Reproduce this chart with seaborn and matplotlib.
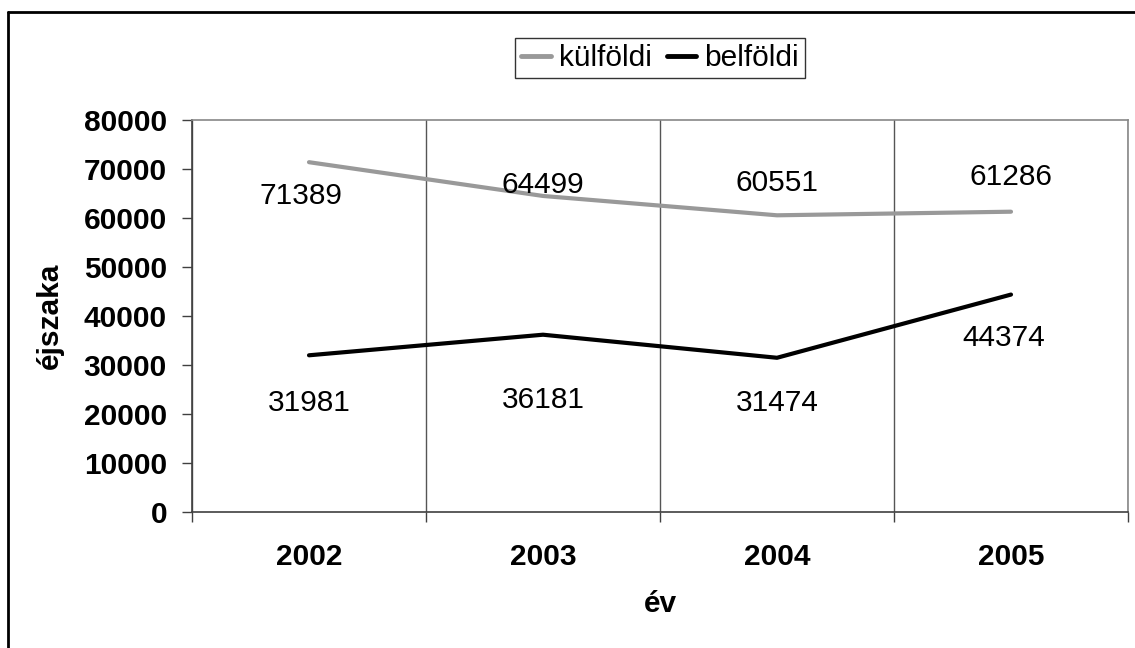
import pandas as pd
import seaborn as sns
import matplotlib.pyplot as plt
from matplotlib.lines import Line2D

evek = ['2002', '2003', '2004', '2005']
kulfoldi = [71389, 64499, 60551, 61286]
belfoldi = [31981, 36181, 31474, 44374]

# label offsets in pixels (dx, dy), as in the original chart
off_kul = [(-8, -34), (0, 11), (0, 32), (0, 35)]
off_bel = [(0, -48), (0, -65), (0, -45), (-7, -43)]

df = pd.DataFrame({
    'év': evek * 2,
    'éjszaka': kulfoldi + belfoldi,
    'típus': ['külföldi'] * 4 + ['belföldi'] * 4,
})

sns.set_style('white')
plt.rcParams['font.family'] = ['Liberation Sans', 'DejaVu Sans']
plt.rcParams['text.color'] = 'black'
plt.rcParams['axes.labelcolor'] = 'black'
fs = 21.5

fig = plt.figure(figsize=(11.35, 6.48), dpi=100)
ax = fig.add_axes([192 / 1135, 1 - 512 / 648, 936 / 1135, 392 / 648])

szinek = {'külföldi': '#999999', 'belföldi': '#000000'}
sns.lineplot(data=df, x='év', y='éjszaka', hue='típus', palette=szinek,
             linewidth=3, sort=False, legend=False, ax=ax)

ax.set_xlim(-0.5, 3.5)
ax.set_ylim(0, 80000)
ax.set_yticks(range(0, 80001, 10000))
ax.set_yticklabels([str(v) for v in range(0, 80001, 10000)],
                   fontsize=fs, fontweight='bold')
ax.set_xticks(range(4))
ax.set_xticklabels(evek, fontsize=fs, fontweight='bold')
ax.set_xticks([-0.5, 0.5, 1.5, 2.5, 3.5], minor=True)
ax.tick_params(axis='x', which='major', length=0, pad=22, labelcolor='black')
ax.tick_params(axis='x', which='minor', length=7, width=1, color='#404040',
               direction='out', bottom=True)
ax.tick_params(axis='y', length=7, width=1, color='#404040',
               direction='out', left=True, pad=11, labelcolor='black')
ax.grid(False)
ax.xaxis.grid(True, which='minor', color='#555555', linewidth=1)

for s in ['left', 'bottom']:
    ax.spines[s].set_color('#404040')
    ax.spines[s].set_linewidth(1.2)
for s in ['top', 'right']:
    ax.spines[s].set_color('#888888')
    ax.spines[s].set_linewidth(1.2)

ax.set_xlabel('év', fontsize=fs, fontweight='bold', labelpad=14)
ax.set_ylabel('éjszaka', fontsize=fs, fontweight='bold', labelpad=14)

for i in range(4):
    ax.annotate(str(kulfoldi[i]), (i, kulfoldi[i]), xytext=off_kul[i],
                textcoords='offset pixels', ha='center', va='center', fontsize=fs)
    ax.annotate(str(belfoldi[i]), (i, belfoldi[i]), xytext=off_bel[i],
                textcoords='offset pixels', ha='center', va='center', fontsize=fs)

handles = [Line2D([], [], color='#999999', linewidth=3.5),
           Line2D([], [], color='#000000', linewidth=3.5)]
leg = fig.legend(handles, ['külföldi', 'belföldi'], loc='center',
                 bbox_to_anchor=(660 / 1135, 1 - 58 / 648), ncol=2,
                 fontsize=fs, frameon=True, fancybox=False,
                 handlelength=1.0, handletextpad=0.25, columnspacing=0.5,
                 borderpad=0.2, borderaxespad=0)
leg.get_frame().set_edgecolor('#000000')
leg.get_frame().set_linewidth(1)

# outer chart border (top and left visible)
fig.add_artist(Line2D([8 / 1135, 1], [1 - 12 / 648, 1 - 12 / 648],
                      color='black', linewidth=2, transform=fig.transFigure))
fig.add_artist(Line2D([8 / 1135, 8 / 1135], [0, 1 - 12 / 648],
                      color='black', linewidth=2, transform=fig.transFigure))

plt.savefig('out.png', dpi=100)
